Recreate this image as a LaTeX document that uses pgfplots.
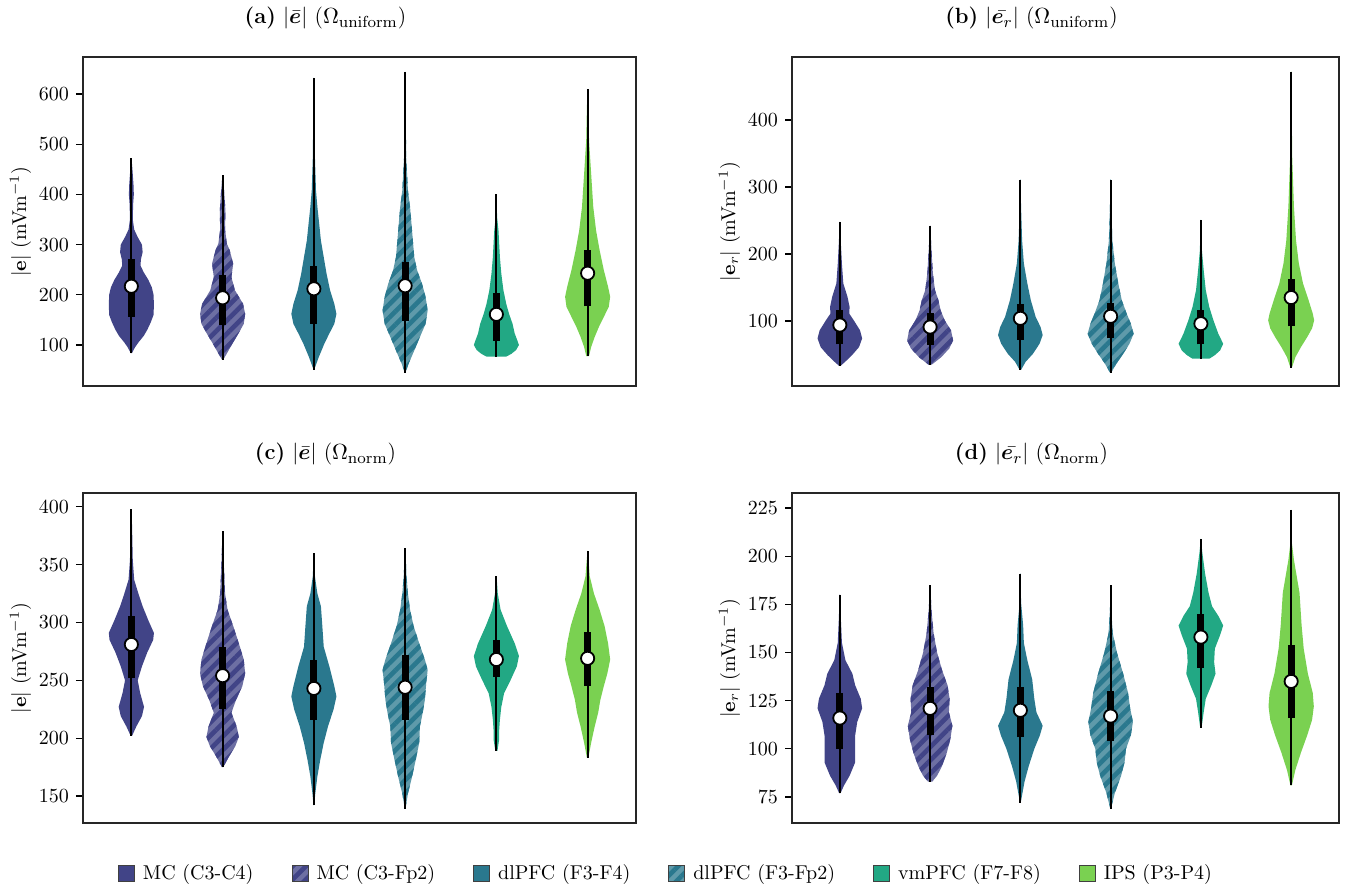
\documentclass[border=0pt]{standalone}
\usepackage{amsmath,bm}
\usepackage{pgfplots}
\pgfplotsset{compat=1.18}
\usepackage{pgfplotstable}
\usetikzlibrary{patterns.meta}

\definecolor{cMC}{HTML}{414487}
\definecolor{cDL}{HTML}{2A788E}
\definecolor{cVM}{HTML}{22A884}
\definecolor{cIP}{HTML}{7AD151}

\tikzset{
  vMC/.style={draw=none, fill=cMC},
  vMCh/.style={draw=none, preaction={fill=cMC!77!white}, pattern={Lines[angle=45,distance=4.7pt,line width=2.3pt]}, pattern color=cMC},
  vDL/.style={draw=none, fill=cDL},
  vDLh/.style={draw=none, preaction={fill=cDL!75!white}, pattern={Lines[angle=45,distance=4.7pt,line width=2.3pt]}, pattern color=cDL},
  vVM/.style={draw=none, fill=cVM},
  vIP/.style={draw=none, fill=cIP},
}

% ---------- panel (a) ----------
\pgfplotstableread{
y w
84 0
84 2
95 10
105 20
118 35
130 45
145 55
160 63
180 64
200 63
215 58
230 48
245 35
258 26
270 27
285 32
300 30
315 18
330 8
350 4
380 5
400 7
420 6
450 3
471 0.5
471 0
}\taA
\pgfplotstableread{
y w
71 0
71 2
83 12
103 28
123 45
142 60
162 64
182 58
209 35
235 25
262 30
289 20
302 12
330 7
368 8
400 5
438 0.5
438 0
}\taB
\pgfplotstableread{
y w
51 0
51 1
76 14
103 30
123 44
142 58
162 64
182 58
209 46
242 36
275 28
308 20
342 15
375 10
408 6
474 3
541 2
632 0.5
632 0
}\taC
\pgfplotstableread{
y w
45 0
45 1
63 10
89 26
116 42
142 58
169 64
196 58
222 48
249 34
275 26
308 22
342 18
375 14
408 8
474 3
607 1
644 0.5
644 0
}\taD
\pgfplotstableread{
y w
77 0
77 28
82 42
90 56
100 64
108 60
123 52
142 46
162 36
182 28
209 20
242 14
275 10
302 8
328 6
355 2
400 0.5
400 0
}\taE
\pgfplotstableread{
y w
78 0
78 4
96 10
116 20
136 32
156 46
176 60
196 64
216 58
249 46
289 34
328 24
375 16
441 10
508 4
574 2
609 0.5
609 0
}\taF

% ---------- panel (b) ----------
\pgfplotstableread{
y w
33 0
33 2
39 15
49 35
61 55
74 64
86 58
101 40
111 27
121 28
136 22
156 10
185 6
215 3
248 0.5
248 0
}\tbA
\pgfplotstableread{
y w
35 0
35 5
46 32
59 55
71 66
86 60
101 42
116 30
131 24
146 14
171 8
205 4
242 0.5
242 0
}\tbB
\pgfplotstableread{
y w
27 0
27 2
39 15
51 36
66 55
79 64
91 58
106 44
131 30
156 20
186 10
220 5
270 2
311 0.5
311 0
}\tbC
\pgfplotstableread{
y w
23 0
23 2
36 16
51 36
66 54
81 66
96 58
111 46
131 32
156 22
186 12
220 5
270 2
311 0.5
311 0
}\tbD
\pgfplotstableread{
y w
44 0
44 25
49 40
56 55
66 64
81 50
101 36
121 24
146 14
176 8
205 3
251 0.5
251 0
}\tbE
\pgfplotstableread{
y w
30 0
30 2
46 12
61 28
76 46
89 60
101 66
111 62
131 50
156 34
186 22
220 14
270 8
345 3
444 1
472 0.5
472 0
}\tbF

% ---------- panel (c) ----------
\pgfplotstableread{
y w
202 0
202 2
210 14
219 30
227 36
239 25
250 18
262 30
274 45
285 62
291 64
302 48
314 32
325 20
337 8
354 4
383 2
398 0.5
398 0
}\tcA
\pgfplotstableread{
y w
175 0
175 2
184 18
193 36
201 46
210 40
222 25
233 38
245 56
256 64
268 60
282 46
297 30
311 14
325 7
354 3
379 0.5
379 0
}\tcB
\pgfplotstableread{
y w
142 0
142 1
152 4
167 10
181 18
196 28
210 40
225 56
236 64
245 58
262 44
279 28
297 24
314 20
325 10
340 3
360 0.5
360 0
}\tcC
\pgfplotstableread{
y w
139 0
139 1
152 8
167 20
181 30
196 40
210 42
222 50
233 56
248 60
259 64
268 56
282 40
297 24
311 14
325 8
340 4
364 0.5
364 0
}\tcD
\pgfplotstableread{
y w
189 0
189 3
199 8
207 8
216 10
227 14
239 22
250 40
262 58
271 64
282 52
297 30
311 12
325 4
340 0.5
340 0
}\tcE
\pgfplotstableread{
y w
183 0
183 2
196 10
210 20
222 30
233 36
245 46
256 56
268 64
282 58
297 48
311 34
325 18
340 6
362 0.5
362 0
}\tcF

% ---------- panel (d) ----------
\pgfplotstableread{
y w
77 0
77 2
81 12
86 28
93 44
100 44
107 44
114 50
121 64
126 60
133 44
139 36
146 16
155 6
167 3
180 0.5
180 0
}\tdA
\pgfplotstableread{
y w
83 0
83 6
86 20
91 34
98 48
105 58
112 64
119 54
126 56
133 50
141 34
150 20
160 10
172 4
185 0.5
185 0
}\tdB
\pgfplotstableread{
y w
72 0
72 1
83 12
91 24
100 40
107 56
112 64
119 46
126 40
136 34
146 20
155 10
164 8
176 2
191 0.5
191 0
}\tdC
\pgfplotstableread{
y w
69 0
69 1
77 12
86 30
93 40
100 44
107 58
114 64
121 56
129 50
139 36
150 18
160 6
172 2
185 0.5
185 0
}\tdD
\pgfplotstableread{
y w
111 0
111 2
119 8
126 14
133 30
139 42
145 38
152 40
159 55
164 64
169 50
174 32
181 22
191 12
202 4
209 0.5
209 0
}\tdE
\pgfplotstableread{
y w
81 0
81 2
89 12
98 28
107 46
115 60
122 65
129 62
139 48
152 36
164 30
181 24
198 8
207 2
224 0.5
224 0
}\tdF

% #1 position, #2 style, #3 table, #4 min, #5 max, #6 q1, #7 q3, #8 median
\newcommand{\violin}[8]{%
  \addplot[#2] table[x expr={#1+\thisrow{w}/259}, y=y] {#3} -- cycle;
  \addplot[#2, forget plot] table[x expr={#1-\thisrow{w}/259}, y=y] {#3} -- cycle;
  \addplot[forget plot, black, line width=1pt] coordinates {(#1,#4) (#1,#5)};
  \addplot[forget plot, black, line width=3.5pt] coordinates {(#1,#6) (#1,#7)};
  \addplot[forget plot, only marks, mark=*, mark size=3.3pt, mark options={fill=white, draw=black, line width=0.9pt}] coordinates {(#1,#8)};
}

\pgfplotsset{
  vax/.style={
    scale only axis, xmin=0.47, xmax=6.53, xtick=\empty,
    ytick pos=left, tick align=outside, major tick length=3.5pt,
    axis line style={line width=0.6pt, black!85},
    every tick/.append style={black, line width=0.6pt},
    every axis title shift=0pt,
    title style={at={(0.5,1)}, anchor=base, yshift=16.5pt, xshift=-17pt, font=\fontsize{11}{13}\selectfont},
    ylabel shift=-3pt,
    anchor=south west,
  }
}

\begin{document}
\begin{tikzpicture}
\useasboundingbox (0pt,0pt) rectangle (678.5pt,-446.5pt);

% (a)
\begin{axis}[vax, at={(41.5pt,-193pt)}, width=276.5pt, height=164.5pt,
  ymin=18.3, ymax=673.7, ytick={100,200,...,600},
  title={\textbf{(a)} $|\bar{\bm{e}}|$ ($\Omega_{\mathrm{uniform}}$)},
  ylabel={$|\mathbf{e}|$ (mVm$^{-1}$)}]
\violin{1}{vMC}{\taA}{84}{472}{156}{272}{217}
\violin{2}{vMCh}{\taB}{71}{438}{139}{239}{194}
\violin{3}{vDL}{\taC}{51}{632}{142}{257}{212}
\violin{4}{vDLh}{\taD}{45}{644}{148}{265}{218}
\violin{5}{vVM}{\taE}{77}{400}{108}{204}{161}
\violin{6}{vIP}{\taF}{78}{609}{177}{289}{243}
\end{axis}

% (b)
\begin{axis}[vax, at={(396pt,-193pt)}, width=273.5pt, height=164.5pt,
  ymin=3, ymax=494, ytick={100,200,300,400},
  title={\textbf{(b)} $|\bar{\bm{e}_r}|$ ($\Omega_{\mathrm{uniform}}$)},
  ylabel={$|\mathbf{e}_r|$ (mVm$^{-1}$)}]
\violin{1}{vMC}{\tbA}{33}{248}{65}{116}{94}
\violin{2}{vMCh}{\tbB}{35}{242}{64}{112}{91}
\violin{3}{vDL}{\tbC}{27}{311}{72}{126}{104}
\violin{4}{vDLh}{\tbD}{23}{311}{74}{127}{107}
\violin{5}{vVM}{\tbE}{44}{251}{65}{117}{96}
\violin{6}{vIP}{\tbF}{30}{472}{92}{162}{135}
\end{axis}

% (c)
\begin{axis}[vax, at={(41.5pt,-411.5pt)}, width=276.5pt, height=165pt,
  ymin=126.6, ymax=412, ytick={150,200,...,400},
  title={\textbf{(c)} $|\bar{\bm{e}}|$ ($\Omega_{\mathrm{norm}}$)},
  ylabel={$|\mathbf{e}|$ (mVm$^{-1}$)},
  legend columns=6,
  legend style={at={(1.056,-0.152)}, anchor=center, draw=none, fill=none,
    /tikz/every odd column/.append style={column sep=2pt},
    /tikz/every even column/.append style={column sep=17pt}},
  legend image code/.code={\draw[#1, draw=black!75, line width=0.5pt] (0pt,-4pt) rectangle (8pt,4pt);}]
\violin{1}{vMC}{\tcA}{202}{398}{252}{306}{281}
\violin{2}{vMCh}{\tcB}{175}{379}{225}{279}{254}
\violin{3}{vDL}{\tcC}{142}{360}{216}{268}{243}
\violin{4}{vDLh}{\tcD}{139}{364}{216}{272}{244}
\violin{5}{vVM}{\tcE}{189}{340}{253}{285}{268}
\violin{6}{vIP}{\tcF}{183}{362}{245}{292}{269}
\legend{MC (C3-C4),MC (C3-Fp2),dlPFC (F3-F4),dlPFC (F3-Fp2),vmPFC (F7-F8),IPS (P3-P4)}
\end{axis}

% (d)
\begin{axis}[vax, at={(396pt,-411.5pt)}, width=273.5pt, height=165pt,
  ymin=61.5, ymax=232.8, ytick={75,100,...,225},
  title={\textbf{(d)} $|\bar{\bm{e}_r}|$ ($\Omega_{\mathrm{norm}}$)},
  ylabel={$|\mathbf{e}_r|$ (mVm$^{-1}$)}]
\violin{1}{vMC}{\tdA}{77}{180}{100}{129}{116}
\violin{2}{vMCh}{\tdB}{83}{185}{107}{132}{121}
\violin{3}{vDL}{\tdC}{72}{191}{106}{132}{120}
\violin{4}{vDLh}{\tdD}{69}{185}{104}{130}{117}
\violin{5}{vVM}{\tdE}{111}{209}{142}{170}{158}
\violin{6}{vIP}{\tdF}{81}{224}{116}{154}{135}
\end{axis}
\end{tikzpicture}
\end{document}
